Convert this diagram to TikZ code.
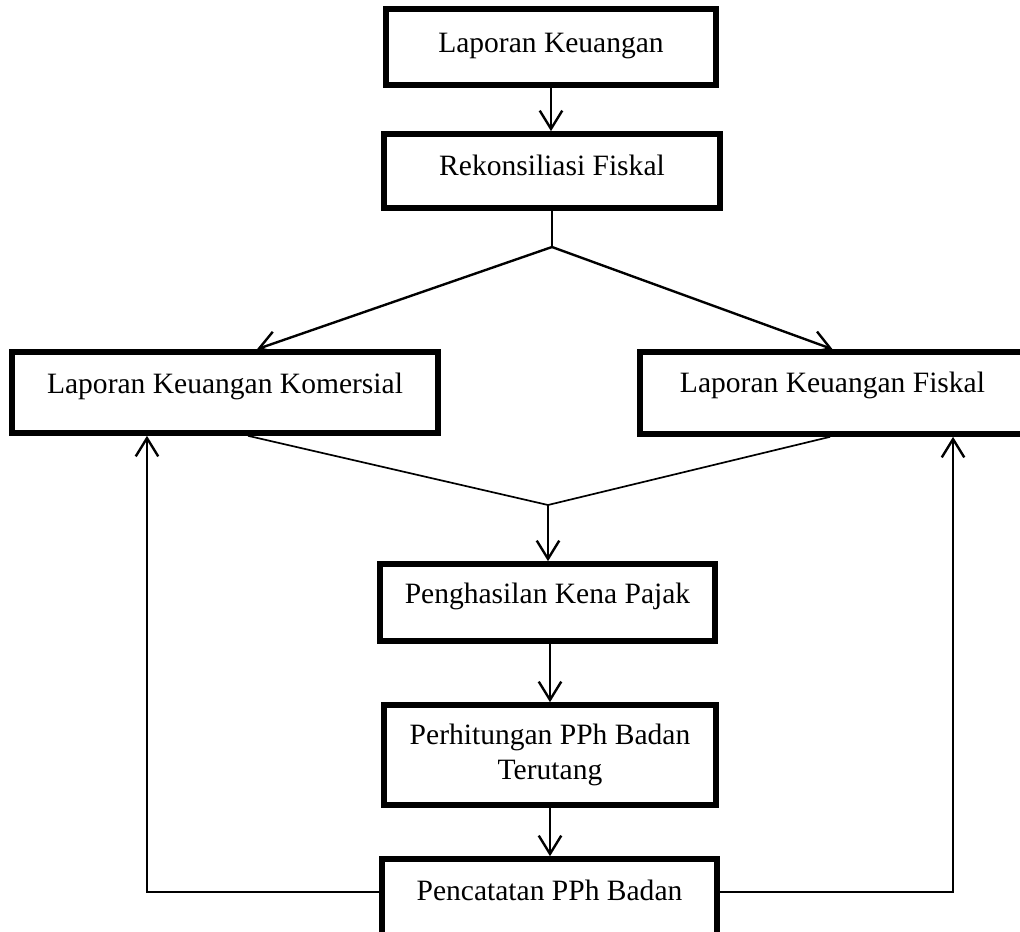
\documentclass[tikz,border=0pt]{standalone}
\usepackage{fontspec}
\setmainfont{Liberation Serif}
\usetikzlibrary{arrows.meta}
\begin{document}
\begin{tikzpicture}[x=0.025cm,y=-0.025cm,
    box/.style={draw=black,line width=4pt,rectangle,inner sep=0pt,
        font=\fontsize{21}{25}\selectfont},
    lift/.style={text depth=#1},
    conn/.style={line width=1.7pt},
    thinconn/.style={line width=1.2pt},
    >={Straight Barb[length=13pt,width=16pt]}]
    \useasboundingbox (0,0) rectangle (1020,932);
    \clip (0,0) rectangle (1020,932);
        % top of the chart
        \node[box,lift=6pt,minimum width=8.25cm,minimum height=1.9cm] (lk) at (551,47) {Laporan Keuangan};
        \node[box,lift=8.5pt,minimum width=8.4cm,minimum height=1.85cm] (rf) at (552,171) {Rekonsiliasi Fiskal};
        \coordinate (split) at (552,247);
        % the two reports
        \node[box,lift=13.5pt,minimum width=10.65cm,minimum height=2.025cm] (lkk) at (225,392.5) {Laporan Keuangan Komersial};
        \node[box,lift=15pt,minimum width=9.625cm,minimum height=2.05cm] (lkf) at (832.5,393) {Laporan Keuangan Fiskal};
        \coordinate (merge) at (548,505);
        % lower column
        \node[box,lift=13.5pt,minimum width=8.375cm,minimum height=1.925cm] (pkp) at (547.5,602.5) {Penghasilan Kena Pajak};
        \node[box,align=center,minimum width=8.3cm,minimum height=2.5cm] (phb) at (550,755) {Perhitungan PPh Badan\\Terutang};
        \node[box,lift=13pt,minimum width=8.375cm,minimum height=2cm] (pcp) at (549.5,899) {Pencatatan PPh Badan};

        \draw[conn,->] (lk.south) -- (lk.south |- rf.north);
        \draw[conn] (rf.south) -- (split);
        \draw[conn,->] (split) -- ([xshift=0.8cm]lkk.north);
        \draw[conn,->] (split) -- (lkf.north);
        \draw[thinconn] ([xshift=0.575cm]lkk.south) -- (merge);
        \draw[thinconn] ([xshift=-0.06cm]lkf.south) -- (merge);
        \draw[conn,->] (merge) -- (merge |- pkp.north);
        \draw[conn,->] (phb.north |- pkp.south) -- (phb.north);
        \draw[conn,->] (phb.south) -- (phb.south |- pcp.north);
        % feedback to both reports
        \draw[conn,->] ([yshift=0.175cm]pcp.west) -| ([xshift=-1.95cm]lkk.south);
        \draw[conn,->] ([yshift=0.175cm]pcp.east) -| ([xshift=3.0125cm]lkf.south);
\end{tikzpicture}
\end{document}
